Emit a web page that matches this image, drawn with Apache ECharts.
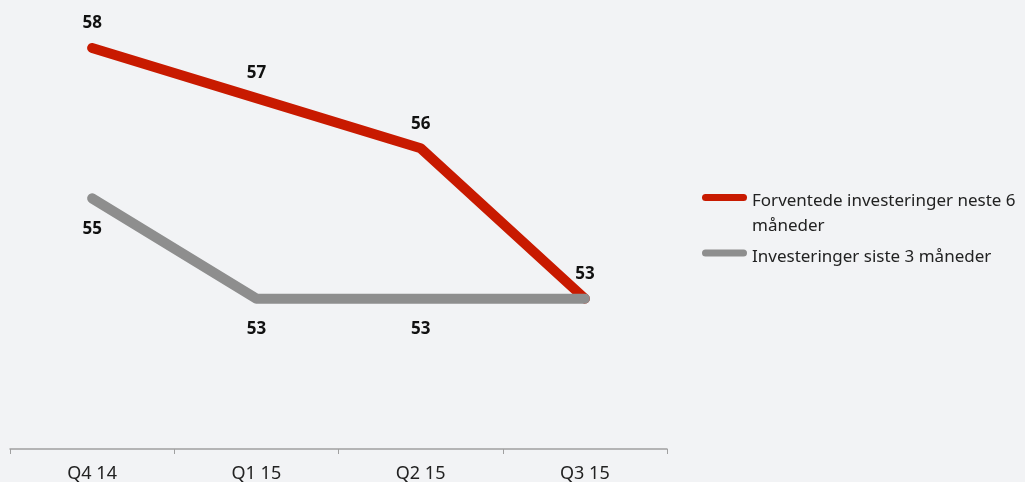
<!DOCTYPE html>
<html>
<head>
<meta charset="utf-8">
<script src="https://cdn.jsdelivr.net/npm/echarts@6/dist/echarts.min.js"></script>
<style>
html,body{margin:0;padding:0;background:#f2f3f5;}
#chart{width:1025px;height:482px;}
</style>
</head>
<body>
<div id="chart"></div>
<script>
const categories = ['Q4 14', 'Q1 15', 'Q2 15', 'Q3 15'];
const forventede = [58, 57, 56, 53];
const siste3 = [55, 53, 53, 53];
const seriesNames = ['Forventede investeringer neste 6 måneder', 'Investeringer siste 3 måneder'];

const FONT = '"Noto Sans", "Open Sans", sans-serif';
const chart = echarts.init(document.getElementById('chart'), null, {renderer: 'canvas'});
const PILL = 'path://M3.5,0 L41.5,0 A3.5,3.5 0 0 1 41.5,7 L3.5,7 A3.5,3.5 0 0 1 3.5,0 Z';

const option = {
  backgroundColor: '#f2f3f5',
  animation: false,
  grid: {left: 10, right: 358, top: 48, bottom: 33, outerBoundsMode: 'none', containLabel: false},
  legend: {
    orient: 'vertical',
    left: 697,
    top: 167,
    itemWidth: 45,
    itemHeight: 7,
    itemGap: 5,
    icon: PILL,
    textStyle: {
      fontFamily: FONT, fontSize: 17, color: '#222',
      rich: {
        s1: {lineHeight: 33, fontSize: 1},
        s2: {lineHeight: 8, fontSize: 1},
        t: {fontFamily: FONT, fontSize: 17, color: '#222', lineHeight: 25}
      }
    },
    formatter: function (n) {
      return n === seriesNames[0]
        ? '{s1| }\n{t|Forventede investeringer neste 6}\n{t|måneder}'
        : '{s2| }\n{t|' + n + '}';
    },
    data: [
      {name: seriesNames[0], icon: PILL},
      {name: seriesNames[1], icon: PILL}
    ]
  },
  xAxis: {
    type: 'category',
    data: categories,
    boundaryGap: true,
    axisLine: {show: true, lineStyle: {color: '#a0a0a0', width: 1.5}},
    axisTick: {show: true, length: 5, lineStyle: {color: '#a0a0a0'}},
    axisLabel: {fontFamily: FONT, fontSize: 18, color: '#222', margin: 16}
  },
  yAxis: {
    type: 'value',
    min: 50,
    max: 58,
    show: false,
    splitLine: {show: false}
  },
  series: [
    {
      name: seriesNames[0],
      type: 'line',
      data: forventede,
      symbol: 'circle',
      symbolSize: 0.1,
      showSymbol: true,
      itemStyle: {color: '#c81a00'},
      lineStyle: {color: '#c81a00', width: 10, cap: 'round', join: 'round'},
      label: {show: true, position: 'top', distance: 16, fontFamily: FONT, fontSize: 17, fontWeight: 'bold', color: '#111'},
      z: 2
    },
    {
      name: seriesNames[1],
      type: 'line',
      data: siste3.map((v, i) => i === 3 ? {value: v, label: {show: false}} : v),
      symbol: 'circle',
      symbolSize: 0.1,
      showSymbol: true,
      itemStyle: {color: '#8e8e8e'},
      lineStyle: {color: '#8e8e8e', width: 10, cap: 'round', join: 'round'},
      label: {show: true, position: 'bottom', distance: 22, fontFamily: FONT, fontSize: 17, fontWeight: 'bold', color: '#111'},
      z: 3
    }
  ]
};
chart.setOption(option);
</script>
</body>
</html>
